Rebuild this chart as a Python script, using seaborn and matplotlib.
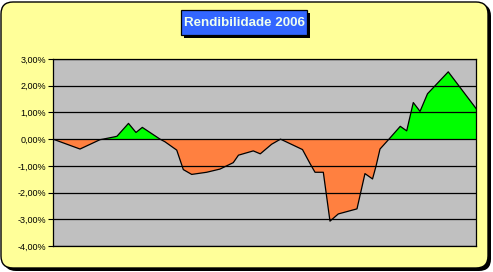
import numpy as np
import pandas as pd
import matplotlib
matplotlib.use("Agg")
import matplotlib.pyplot as plt
import seaborn as sns
from matplotlib.patches import FancyBboxPatch, Rectangle
from matplotlib.ticker import FuncFormatter, MultipleLocator

# ---- data (weeks of 2006, cumulative return in %) ----
semana = [0.0, 3.32, 5.78, 6.15, 7.62, 7.87, 9.28, 10.20, 10.98, 13.16,
          13.77, 15.21, 16.02, 17.05, 18.89, 20.53, 22.16, 22.80, 24.62, 25.48,
          26.88, 27.97, 30.67, 31.59, 32.21, 33.23, 34.05, 35.07, 37.37, 38.35,
          39.28, 39.71, 40.20, 41.30, 42.69, 43.48, 44.29, 45.12, 46.04, 48.59,
          52.0]
rendibilidade = [0.00, -0.37, -0.02, 0.00, 0.09, 0.11, 0.59, 0.25, 0.44, 0.00,
                 -0.10, -0.41, -1.14, -1.32, -1.24, -1.12, -0.88, -0.60, -0.44, -0.55,
                 -0.19, 0.00, -0.39, -0.91, -1.24, -1.24, -3.07, -2.80, -2.61, -1.29,
                 -1.49, -1.01, -0.37, 0.00, 0.48, 0.31, 1.37, 1.04, 1.70, 2.52,
                 1.15]
y_ticks = [-4, -3, -2, -1, 0, 1, 2, 3]
titulo = "Rendibilidade 2006"

df = pd.DataFrame({"semana": semana, "rend": rendibilidade})

W, H = 493, 272
fig = plt.figure(figsize=(W / 100, H / 100), dpi=100)
fig.patch.set_facecolor("white")

# rounded chart-area border with shadow (in inches)
def px(v):
    return v / 100.0

shadow = FancyBboxPatch((px(4), px(H - 271)), px(487), px(267),
                        boxstyle=f"round,pad=0,rounding_size={px(12)}",
                        transform=fig.dpi_scale_trans, facecolor="black",
                        edgecolor="black", linewidth=0, zorder=0)
frame = FancyBboxPatch((px(1), px(H - 268)), px(487), px(266),
                       boxstyle=f"round,pad=0,rounding_size={px(12)}",
                       transform=fig.dpi_scale_trans, facecolor="#FFFF99",
                       edgecolor="black", linewidth=1.0, zorder=1)
fig.patches.extend([shadow, frame])

# plot area
left, right, top, bottom = 53, 476, 59, 246
ax = fig.add_axes([left / W, 1 - bottom / H, (right - left) / W, (bottom - top) / H])
ax.set_zorder(3)
ax.set_facecolor("#C0C0C0")

x = np.array(semana)
y = np.array(rendibilidade)
ax.fill_between(x, y, 0, where=y >= 0, interpolate=True, color="#00FF00", linewidth=0, zorder=2)
ax.fill_between(x, y, 0, where=y <= 0, interpolate=True, color="#FF8040", linewidth=0, zorder=2)
sns.lineplot(data=df, x="semana", y="rend", ax=ax, color="black", linewidth=0.9,
             zorder=4, estimator=None, sort=False)

ax.set_xlim(0, 52)
ax.set_ylim(-4, 3)
ax.yaxis.set_major_locator(MultipleLocator(1))
ax.set_yticks(y_ticks)
ax.yaxis.set_major_formatter(FuncFormatter(lambda v, p: f"{v:.2f}".replace(".", ",") + "%"))
ax.set_xticks([])
ax.set_xlabel("")
ax.set_ylabel("")
for yt in y_ticks:
    ax.axhline(yt, color="black", linewidth=0.9, zorder=3)
ax.tick_params(axis="y", length=3.5, width=0.8, pad=1.5, labelsize=6.5, colors="black")
for lab in ax.get_yticklabels():
    lab.set_fontfamily("Liberation Sans")
for s in ax.spines.values():
    s.set_color("black")
    s.set_linewidth(0.9)

# title box with shadow
tb_l, tb_t, tb_r, tb_b = 181, 10, 307, 35
fig.patches.append(Rectangle((px(tb_l + 3), px(H - tb_b - 3)), px(tb_r - tb_l), px(tb_b - tb_t),
                             transform=fig.dpi_scale_trans, facecolor="black",
                             edgecolor="black", linewidth=0, zorder=2))
fig.patches.append(Rectangle((px(tb_l), px(H - tb_b)), px(tb_r - tb_l), px(tb_b - tb_t),
                             transform=fig.dpi_scale_trans, facecolor="#3366FF",
                             edgecolor="black", linewidth=0.9, zorder=3))
fig.text((tb_l + tb_r) / 2 / W, 1 - (tb_t + tb_b) / 2 / H, titulo,
         ha="center", va="center", fontsize=9.6, fontweight="bold",
         family="Liberation Sans", color="#EEFFEE", zorder=4)

fig.savefig("out.png", dpi=100, facecolor="white")
